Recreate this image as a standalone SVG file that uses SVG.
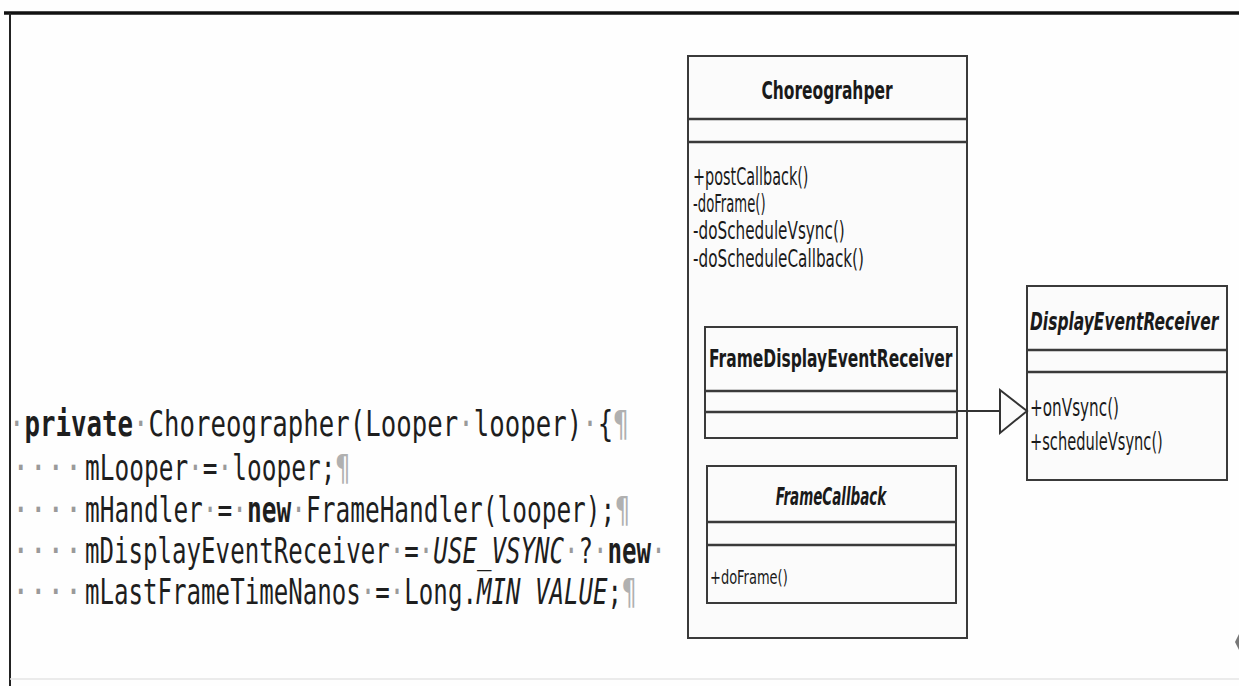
<svg xmlns="http://www.w3.org/2000/svg" width="1239" height="686" viewBox="0 0 1239 686">
<style>
.box{fill:#fbfbfb;stroke:#3a3a3a;stroke-width:2}
.div{stroke:#3a3a3a;stroke-width:2.5;fill:none}
.uml{font-family:"DejaVu Sans","Liberation Sans",sans-serif;fill:#1a1a1a}
.t{font-size:25px;font-weight:bold}
.m{font-size:24px}
.code{font-family:"DejaVu Sans Mono","Liberation Mono",monospace;font-size:36px;fill:#1e1e1e}
.dot{fill:#9a9a9a}
.pil{fill:#b0b0b0}
.kw{font-weight:bold}
.it{font-style:italic}
</style>
<rect x="0" y="0" width="1239" height="686" fill="#fefefe"/>
<g id="frame">
<line x1="4" y1="13" x2="1239" y2="13" stroke="#111" stroke-width="3.5"/>
<line x1="10" y1="13" x2="10" y2="686" stroke="#222" stroke-width="2"/>
<line x1="10" y1="679" x2="1239" y2="679" stroke="#e4e4e4" stroke-width="1.5"/>
<path d="M1239,634 L1235,642 L1239,650 Z" fill="#777"/>
</g>
<g id="code">
<text class="code" transform="translate(9,436) scale(0.715,1)"><tspan class="dot">·</tspan><tspan class="kw">private</tspan><tspan class="dot">·</tspan>Choreographer(Looper<tspan class="dot">·</tspan>looper)<tspan class="dot">·</tspan>{<tspan class="pil">¶</tspan></text>
<text class="code dot" transform="translate(12,480) scale(0.81,1)">····</text>
<text class="code" transform="translate(85,480) scale(0.68,1)">mLooper<tspan class="dot">·</tspan>=<tspan class="dot">·</tspan>looper;<tspan class="pil">¶</tspan></text>
<text class="code dot" transform="translate(12,522) scale(0.81,1)">····</text>
<text class="code" transform="translate(85,522) scale(0.68,1)">mHandler<tspan class="dot">·</tspan>=<tspan class="dot">·</tspan><tspan class="kw">new</tspan><tspan class="dot">·</tspan>FrameHandler(looper);<tspan class="pil">¶</tspan></text>
<text class="code dot" transform="translate(12,563) scale(0.81,1)">····</text>
<text class="code" transform="translate(85,563) scale(0.67,1)">mDisplayEventReceiver<tspan class="dot">·</tspan>=<tspan class="dot">·</tspan><tspan class="it">USE_VSYNC</tspan><tspan class="dot">·</tspan>?<tspan class="dot">·</tspan><tspan class="kw">new</tspan><tspan class="dot">·</tspan></text>
<text class="code dot" transform="translate(12,604) scale(0.81,1)">····</text>
<text class="code" transform="translate(85,604) scale(0.67,1)">mLastFrameTimeNanos<tspan class="dot">·</tspan>=<tspan class="dot">·</tspan>Long.<tspan class="it">MIN VALUE</tspan>;<tspan class="pil">¶</tspan></text>
</g>
<g id="Choreographer">
<rect class="box" x="688" y="56" width="279" height="582"/>
<line class="div" x1="688" y1="119" x2="967" y2="119"/>
<line class="div" x1="688" y1="142" x2="967" y2="142"/>
<text class="uml t" text-anchor="middle" transform="translate(827,99) scale(0.62,1)">Choreograhper</text>
<text class="uml m" transform="translate(693,185) scale(0.6,1)">+postCallback()</text>
<text class="uml m" transform="translate(693,212) scale(0.55,1)">-doFrame()</text>
<text class="uml m" transform="translate(693,239) scale(0.635,1)">-doScheduleVsync()</text>
<text class="uml m" transform="translate(693,267) scale(0.635,1)">-doScheduleCallback()</text>
</g>
<g id="FrameDisplayEventReceiver">
<rect class="box" x="705" y="327" width="252" height="111"/>
<line class="div" x1="705" y1="391" x2="957" y2="391"/>
<line class="div" x1="705" y1="412" x2="957" y2="412"/>
<text class="uml t" transform="translate(709,367) scale(0.62,1)">FrameDisplayEventReceiver</text>
</g>
<g id="FrameCallback">
<rect class="box" x="707" y="466" width="249" height="137"/>
<line class="div" x1="707" y1="522" x2="956" y2="522"/>
<line class="div" x1="707" y1="545" x2="956" y2="545"/>
<text class="uml t it" text-anchor="middle" font-size="23" transform="translate(831,505) scale(0.54,1)">FrameCallback</text>
<text class="uml" font-size="20" transform="translate(710,584) scale(0.65,1)">+doFrame()</text>
</g>
<g id="DisplayEventReceiver">
<rect class="box" x="1027" y="286" width="200" height="194"/>
<line class="div" x1="1027" y1="350" x2="1227" y2="350"/>
<line class="div" x1="1027" y1="372" x2="1227" y2="372"/>
<text class="uml t it" transform="translate(1030,330) scale(0.62,1)">DisplayEventReceiver</text>
<text class="uml m" transform="translate(1030,416) scale(0.635,1)">+onVsync()</text>
<text class="uml m" transform="translate(1030,450) scale(0.61,1)">+scheduleVsync()</text>
</g>
<g id="connectors">
<line x1="957" y1="411" x2="1000" y2="411" stroke="#333" stroke-width="2"/>
<polygon points="1000,390 1027,411 1000,433" fill="#fbfbfb" stroke="#333" stroke-width="2"/>
</g>
</svg>
